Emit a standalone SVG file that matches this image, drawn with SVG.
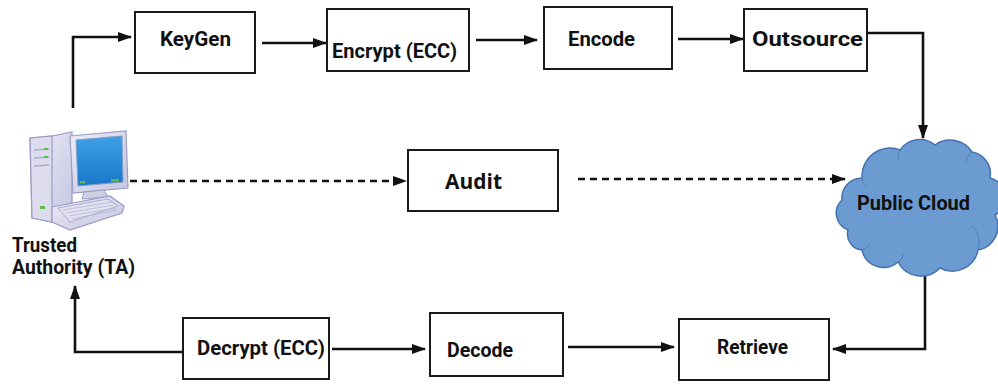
<svg xmlns="http://www.w3.org/2000/svg" width="998" height="384" viewBox="0 0 998 384">
  <defs>
    <marker id="arrow" viewBox="0 0 14 10" refX="13" refY="5" markerWidth="14" markerHeight="10" markerUnits="userSpaceOnUse" orient="auto">
      <path d="M0,0 L14,5 L0,10 Z" fill="#111"/>
    </marker>
    <linearGradient id="caseGrad" x1="0" y1="0" x2="1" y2="1">
      <stop offset="0" stop-color="#ECECF8"/>
      <stop offset="1" stop-color="#C4C4E0"/>
    </linearGradient>
    <linearGradient id="screenGrad" x1="0" y1="0" x2="0" y2="1">
      <stop offset="0" stop-color="#3FA0E6"/>
      <stop offset="1" stop-color="#1877C9"/>
    </linearGradient>
    <style>
      .box { fill: #fff; stroke: #1a1a1a; stroke-width: 2; }
      .lbl { font-family: Roboto, "Liberation Sans", Arial, sans-serif; font-weight: 700; fill: #111; font-size: 20px; }
      .audit { font-family: "Open Sans", "DejaVu Sans", sans-serif; font-weight: 700; fill: #111; font-size: 21px; }
      .conn { fill: none; stroke: #111; stroke-width: 2.6; }
      .dash { stroke-dasharray: 7 5; }
      .case { fill: url(#caseGrad); stroke: #9C9CC4; stroke-width: 1.2; }
    </style>
  </defs>

  <!-- connectors -->
  <g id="connectors">
    <path class="conn" d="M73,108 V37 H131" marker-end="url(#arrow)"/>
    <path class="conn" d="M262,43 H326" marker-end="url(#arrow)"/>
    <path class="conn" d="M476,40 H537" marker-end="url(#arrow)"/>
    <path class="conn" d="M678,39 H743" marker-end="url(#arrow)"/>
    <path class="conn" d="M867,33 H923 V138" marker-end="url(#arrow)"/>
    <path class="conn" d="M925,275 V349 H833" marker-end="url(#arrow)"/>
    <path class="conn" d="M568,347 H674" marker-end="url(#arrow)"/>
    <path class="conn" d="M332,349 H425" marker-end="url(#arrow)"/>
    <path class="conn" d="M182,352 H75 V286" marker-end="url(#arrow)"/>
    <path class="conn dash" d="M130,181 H406" marker-end="url(#arrow)"/>
    <path class="conn dash" d="M578,179 H845" marker-end="url(#arrow)"/>
  </g>

  <!-- trusted authority workstation -->
  <g id="ta">
    <!-- tower -->
    <path class="case" d="M30,138 L52,136 L72,132 L72,214 L52,222 L32,218 Z"/>
    <path d="M30,138 L52,136 L52,222 L32,218 Z" fill="#DCDCEE" stroke="#9C9CC4" stroke-width="1.2"/>
    <path d="M34,150 L49,149 M34,158 L49,157 M34,166 L49,165" stroke="#A8A8C8" stroke-width="1.5"/>
    <rect x="44" y="148" width="4" height="2" fill="#5DBB4A"/>
    <rect x="44" y="156" width="4" height="2" fill="#5DBB4A"/>
    <rect x="40" y="206" width="5" height="3" fill="#5DBB4A"/>
    <!-- monitor -->
    <path class="case" d="M70,136 L126,131 L128,188 L73,193 Z"/>
    <path d="M76,140 L122,136 L123,182 L78,186 Z" fill="url(#screenGrad)" stroke="#7F9FC8" stroke-width="1"/>
    <rect x="80" y="181" width="5" height="2.5" fill="#5DBB4A"/>
    <rect x="111" y="179" width="8" height="2.5" fill="#5DBB4A"/>
    <path d="M84,192 L104,190 L108,197 L82,199 Z" fill="#CFCFE6" stroke="#9C9CC4" stroke-width="1"/>
    <!-- keyboard -->
    <path class="case" d="M52,207 L110,196 L124,206 L122,213 L70,230 L52,222 Z"/>
    <path d="M58,208 L108,199 L118,206 L70,222 Z" fill="#E2E2F0" stroke="#A0A0C4" stroke-width="0.8"/>
    <path d="M63,210 L112,202 M66,213 L114,205 M69,216 L116,208 M72,219 L117,210" stroke="#B4B4D2" stroke-width="0.8"/>
    <text class="lbl" x="12" y="252" font-size="18" textLength="65" lengthAdjust="spacingAndGlyphs">Trusted</text>
    <text class="lbl" x="12" y="274" font-size="18" textLength="123" lengthAdjust="spacingAndGlyphs">Authority (TA)</text>
  </g>

  <g id="keygen">
    <rect class="box" x="135" y="12" width="120" height="61"/>
    <text class="lbl" x="160" y="46" textLength="71" lengthAdjust="spacingAndGlyphs">KeyGen</text>
  </g>

  <g id="encrypt">
    <rect class="box" x="327" y="9" width="142" height="62"/>
    <text class="lbl" x="332" y="58" font-size="25" textLength="125" lengthAdjust="spacingAndGlyphs">Encrypt (ECC)</text>
  </g>

  <g id="encode">
    <rect class="box" x="544" y="7" width="128" height="62"/>
    <text class="lbl" x="568" y="46" textLength="67" lengthAdjust="spacingAndGlyphs">Encode</text>
  </g>

  <g id="outsource">
    <rect class="box" x="744" y="9" width="123" height="62"/>
    <text class="lbl" x="752" y="46" font-size="22" textLength="111" lengthAdjust="spacingAndGlyphs">Outsource</text>
  </g>

  <g id="audit">
    <rect class="box" x="408" y="150" width="150" height="61"/>
    <text class="audit" x="445" y="189" textLength="57" lengthAdjust="spacingAndGlyphs">Audit</text>
  </g>

  <g id="public-cloud">
    <path d="M848,230 A18,18 0 0 1 842,200 A20,20 0 0 1 862,178 A28,28 0 0 1 900,150 A24,24 0 0 1 935,145 A26,26 0 0 1 972,152 A22,22 0 0 1 990,178 A20,20 0 0 1 995,215 A24,24 0 0 1 978,250 A26,26 0 0 1 940,268 A26,26 0 0 1 898,262 A22,22 0 0 1 862,250 A16,16 0 0 1 848,230 Z" fill="#6C9BD2" stroke="#4472B0" stroke-width="1.5"/>
    <path d="M862,178 A14,14 0 0 0 866,186 M900,150 A16,16 0 0 0 898,160 M972,152 A14,14 0 0 0 966,162 M978,250 A22,22 0 0 0 972,226 M898,262 A12,12 0 0 0 904,254 M862,250 A14,14 0 0 0 870,244" fill="none" stroke="#4472B0" stroke-width="1" opacity="0.7"/>
    <text class="lbl" x="857" y="210" textLength="113" lengthAdjust="spacingAndGlyphs">Public Cloud</text>
  </g>

  <g id="retrieve">
    <rect class="box" x="679" y="319" width="150" height="61"/>
    <text class="lbl" x="717" y="354" textLength="71" lengthAdjust="spacingAndGlyphs">Retrieve</text>
  </g>

  <g id="decode">
    <rect class="box" x="430" y="313" width="133" height="63"/>
    <text class="lbl" x="447" y="357" textLength="66" lengthAdjust="spacingAndGlyphs">Decode</text>
  </g>

  <g id="decrypt">
    <rect class="box" x="183" y="318" width="146" height="61"/>
    <text class="lbl" x="197" y="355" font-size="21" textLength="128" lengthAdjust="spacingAndGlyphs">Decrypt (ECC)</text>
  </g>
</svg>
